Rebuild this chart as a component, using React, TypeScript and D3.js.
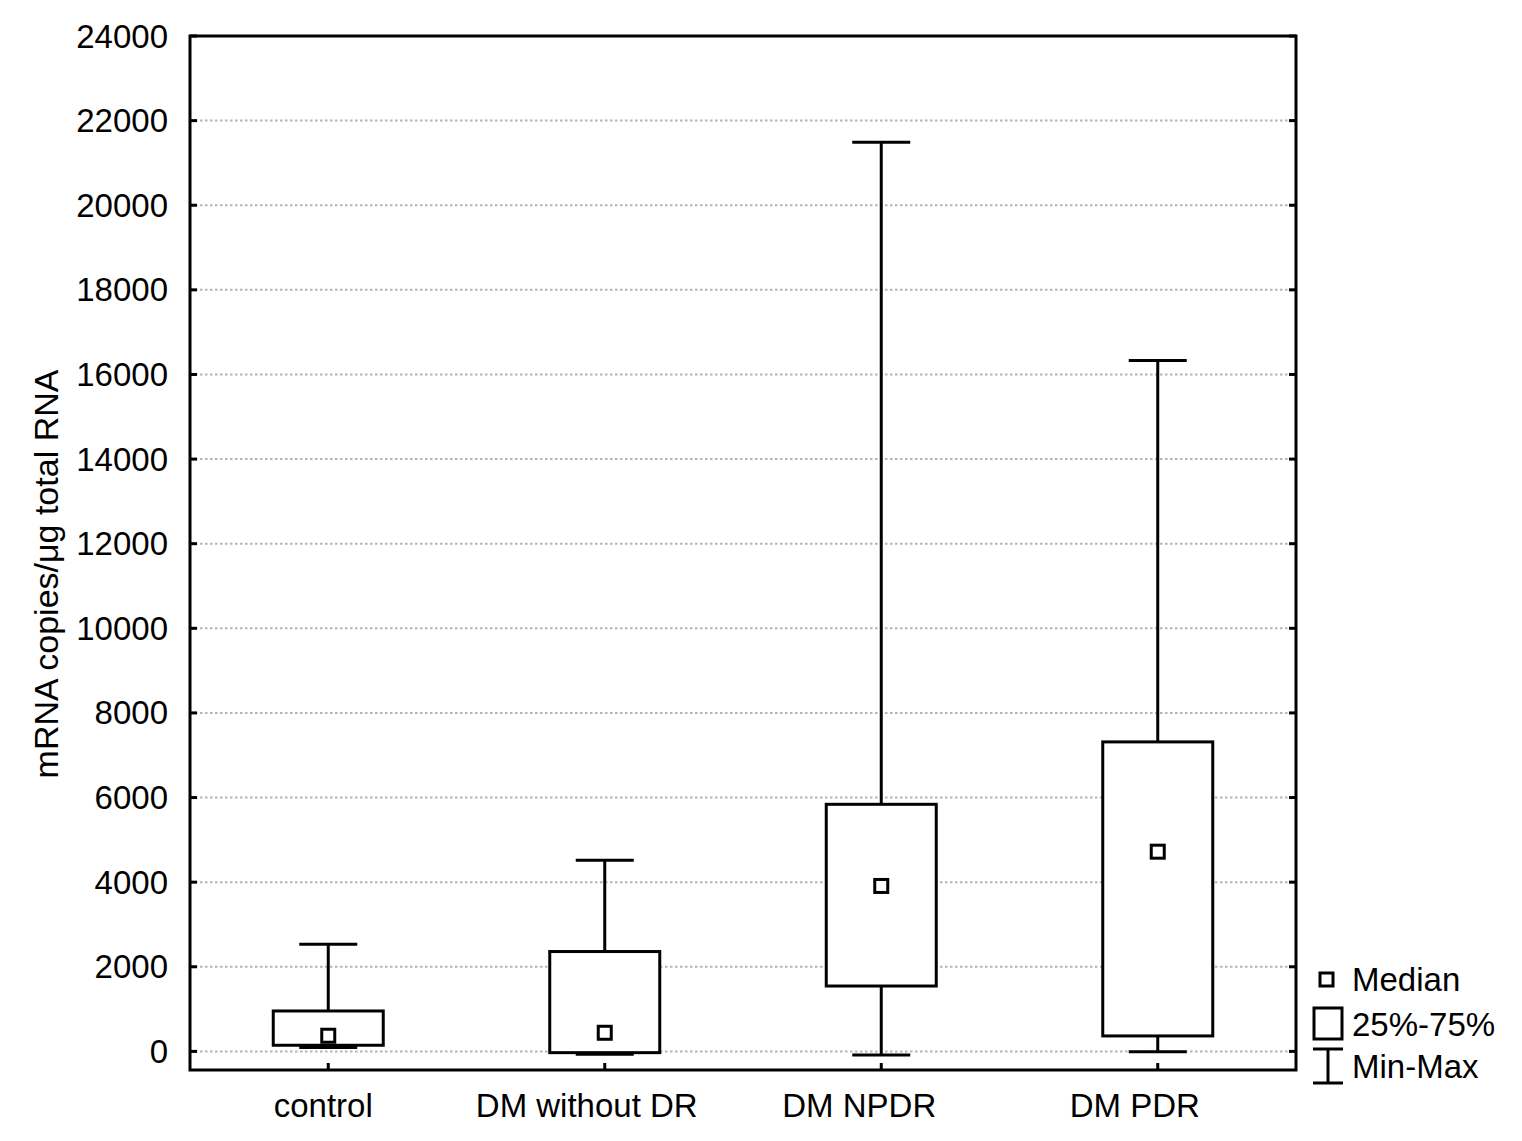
import React from "react";
import * as d3 from "d3";

const categories = ["control", "DM without DR", "DM NPDR", "DM PDR"];
const minValues = [90, -70, -85, -10];
const q1Values = [145, -30, 1545, 365];
const medianValues = [370, 440, 3910, 4720];
const q3Values = [955, 2360, 5840, 7315];
const maxValues = [2530, 4520, 21490, 16330];
const yTicks = [0, 2000, 4000, 6000, 8000, 10000, 12000, 14000, 16000, 18000, 20000, 22000, 24000];
const legendLabels = ["Median", "25%-75%", "Min-Max"];

const W = 1522;
const H = 1141;
const left = 190;
const right = 1296;
const top = 36;
const bottom = 1070;
const FONT = "'Liberation Sans', Arial, sans-serif";
const labelNudge = [-5, -18, -22, -23];

export default function App() {
  const x = d3.scaleBand<string>().domain(categories).range([left, right]).padding(0);
  const y = d3.scaleLinear().domain([-440, 24000]).range([bottom, top]);
  const boxW = 110;
  const capW = 58;
  const med = 13;
  const sw = 3;

  return (
    <svg width={W} height={H} style={{ position: "absolute", left: 0, top: 0, background: "#fff" }}>
      <rect x={0} y={0} width={W} height={H} fill="#fff" />
      {yTicks.filter((t) => t < 24000).map((t) => (
        <line key={"g" + t} x1={left} x2={right} y1={y(t)} y2={y(t)} stroke="#b4b4b4" strokeWidth={2} strokeDasharray="2.5,2.5" />
      ))}
      {categories.map((c, i) => {
        const cx = (x(c) as number) + x.bandwidth() / 2;
        return (
          <g key={c} stroke="#000" strokeWidth={sw} fill="#fff">
            <line x1={cx} x2={cx} y1={y(q3Values[i])} y2={y(maxValues[i])} />
            <line x1={cx} x2={cx} y1={y(q1Values[i])} y2={y(minValues[i])} />
            <line x1={cx - capW / 2} x2={cx + capW / 2} y1={y(maxValues[i])} y2={y(maxValues[i])} />
            <line x1={cx - capW / 2} x2={cx + capW / 2} y1={y(minValues[i])} y2={y(minValues[i])} />
            <rect x={cx - boxW / 2} y={y(q3Values[i])} width={boxW} height={y(q1Values[i]) - y(q3Values[i])} />
            <rect x={cx - med / 2} y={y(medianValues[i]) - med / 2} width={med} height={med} />
          </g>
        );
      })}
      <rect x={left} y={top} width={right - left} height={bottom - top} fill="none" stroke="#000" strokeWidth={3} />
      {yTicks.map((t) => (
        <g key={"t" + t}>
          <line x1={left} x2={left + 7} y1={y(t)} y2={y(t)} stroke="#000" strokeWidth={3} />
          <line x1={right - 7} x2={right} y1={y(t)} y2={y(t)} stroke="#000" strokeWidth={3} />
          <text x={168} y={y(t)} dy="0.35em" textAnchor="end" fontFamily={FONT} fontSize={33} fill="#000">
            {t}
          </text>
        </g>
      ))}
      {categories.map((c, i) => {
        const cx = (x(c) as number) + x.bandwidth() / 2;
        return (
          <g key={"x" + c}>
            <line x1={cx} x2={cx} y1={bottom} y2={bottom - 7} stroke="#000" strokeWidth={3} />
            <text x={cx + labelNudge[i]} y={1117} textAnchor="middle" fontFamily={FONT} fontSize={33} fill="#000">
              {c}
            </text>
          </g>
        );
      })}
      <text transform="translate(58,574) rotate(-90)" textAnchor="middle" fontFamily={FONT} fontSize={34} fill="#000">
        mRNA copies/μg total RNA
      </text>
      <g stroke="#000" strokeWidth={3} fill="#fff">
        <rect x={1320} y={973} width={13} height={13} />
        <rect x={1314} y={1008} width={28} height={31} />
        <line x1={1313} x2={1343} y1={1049} y2={1049} />
        <line x1={1328} x2={1328} y1={1049} y2={1083} />
        <line x1={1313} x2={1343} y1={1083} y2={1083} />
      </g>
      <g fontFamily={FONT} fontSize={33} fill="#000">
        <text x={1352} y={991}>{legendLabels[0]}</text>
        <text x={1352} y={1036}>{legendLabels[1]}</text>
        <text x={1352} y={1078}>{legendLabels[2]}</text>
      </g>
    </svg>
  );
}
